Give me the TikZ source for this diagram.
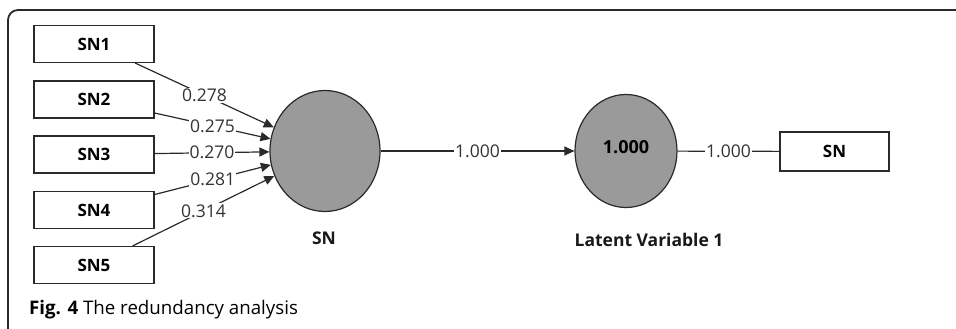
\documentclass[tikz,border=0pt]{standalone}
\usepackage{fontspec}
\setmainfont{Open Sans}
\usetikzlibrary{arrows.meta,shapes.geometric}
\definecolor{lvfill}{HTML}{9A9A9A}
\definecolor{edgecol}{HTML}{2A2A2A}
\tikzset{
  ind/.style={draw=edgecol, line width=1.2pt, minimum width=120pt, minimum height=37pt, inner sep=0pt, font=\fontsize{17}{20}\selectfont\bfseries},
  lv/.style={ellipse, draw=edgecol, line width=1.2pt, fill=lvfill, minimum width=110pt, minimum height=121pt, inner sep=0pt},
  path/.style={draw=edgecol, line width=1.2pt},
  arr/.style={path, -{Triangle[length=10pt,width=9pt]}},
  wt/.style={fill=white, inner sep=1pt, font=\fontsize{17.5}{20}\selectfont, text=black!80},
  lvlab/.style={font=\fontsize{17.5}{20}\selectfont\bfseries, text=black!90},
}
\begin{document}
\begin{tikzpicture}[x=1pt,y=-1pt]
\useasboundingbox (0,0) rectangle (956,329);
\draw[edgecol, line width=1.8pt, rounded corners=10pt] (8,345) -- (8,10) -- (975,10);

\node[ind] (sn1) at (94,44) {SN1};
\node[ind] (sn2) at (94,99.5) {SN2};
\node[ind] (sn3) at (94,154.5) {SN3};
\node[ind] (sn4) at (94,210) {SN4};
\node[ind] (sn5) at (94,265) {SN5};

\node[lv] (sn) at (325,151) {};
\node[lv, minimum width=102pt, minimum height=113pt, font=\fontsize{18}{20}\selectfont\bfseries] (lv1) at (626,151) {\raisebox{8pt}{1.000}};
\node[ind, minimum width=109pt, minimum height=39pt] (snb) at (834.5,151.5) {SN};

\node[lvlab] (snlab) at (324,238) {SN};
\node[lvlab] (lvlab1) at (649,240) {Latent Variable 1};

\draw[arr] (sn1) -- node[wt] {0.278} (sn);
\draw[arr] (sn2) -- node[wt] {0.275} (sn);
\draw[arr] (sn3) -- node[wt] {0.270} (sn);
\draw[arr] (sn4) -- node[wt] {0.281} (sn);
\draw[arr] (sn5) -- node[wt] {0.314} (sn);

\draw[arr] (sn) -- node[wt] {1.000} (lv1);
\draw[path] (lv1) -- node[wt] {1.000} (snb);

\node[anchor=base west, font=\fontsize{18.7}{22}\selectfont, inner sep=0pt] (cap) at (29,314) {\textbf{Fig. 4} The redundancy analysis};
\end{tikzpicture}
\end{document}
